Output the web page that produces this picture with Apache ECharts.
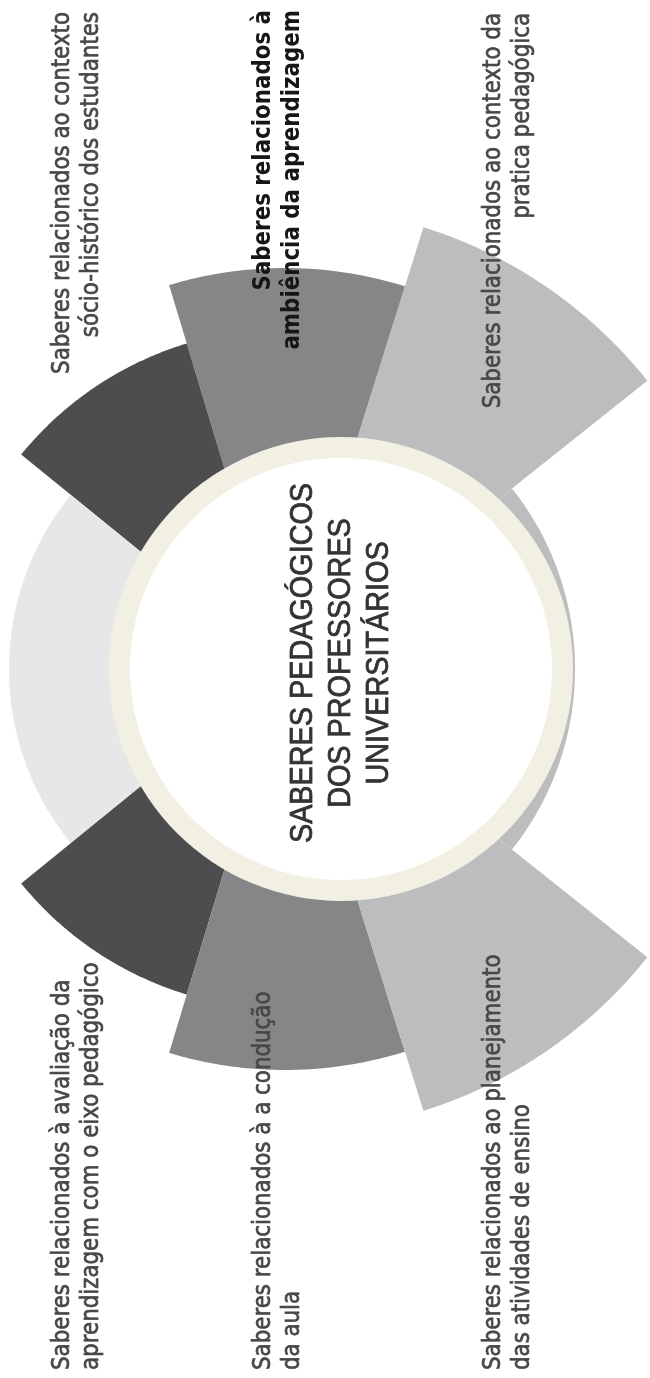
<!DOCTYPE html>
<html>
<head>
<meta charset="utf-8">
<script src="https://cdn.jsdelivr.net/npm/echarts@6/dist/echarts.min.js"></script>
<style>
  html, body { margin: 0; padding: 0; background: #fff; }
  #chart { width: 650px; height: 1378px; }
</style>
</head>
<body>
<div id="chart"></div>
<script>
// Saberes pedagógicos: 8 setores em volta do círculo central
// ângulos em graus, anti-horário a partir da direita
const sectorNames = [
  'direita', 'contexto da prática', 'ambiência', 'sócio-histórico',
  'esquerda', 'avaliação', 'condução', 'planejamento'
];
const sectorStart = [-38.5, 38.5, 72.6, 106.8, 140.9, 219.1, 253.2, 287.4];
const sectorEnd = [38.5, 72.6, 106.8, 140.9, 219.1, 253.2, 287.4, 321.5];
const sectorRadius = [290, 463, 401, 340, 276, 340, 401, 463];

const topLabels = [
  ['Saberes relacionados ao contexto', 'sócio-histórico dos estudantes'],
  ['Saberes relacionados à', 'ambiência da aprendizagem'],
  ['Saberes relacionados ao contexto da', 'pratica pedagógica']
];
const bottomLabels = [
  ['Saberes relacionados à avaliação da', 'aprendizagem com o eixo pedagógico'],
  ['Saberes relacionados à a condução', 'da aula'],
  ['Saberes relacionados ao planejamento', 'das atividades de ensino']
];
const centerTitle = ['SABERES PEDAGÓGICOS', 'DOS PROFESSORES', 'UNIVERSITÁRIOS'];

// styles
const sectorColors = ['#bcbdbf', '#bcbdbf', '#858688', '#4d4d4f', '#e6e7e9', '#4d4d4f', '#858688', '#bcbdbf'];
const labelX = [48, 249, 479];
const topY = [12, 10, 13];
const bottomY = 1370;

const chart = echarts.init(document.getElementById('chart'));

const labelFont = '25px "DejaVu Sans"';
const labelGray = '#474749';
const graphics = [];
topLabels.forEach((lines, i) => {
  const strong = i === 1;
  graphics.push({
    type: 'text',
    x: labelX[i],
    y: topY[i],
    rotation: Math.PI / 2,
    scaleX: 0.855,
    z: 100,
    style: {
      text: lines.join('\n'),
      font: (strong ? 'bold ' : '') + labelFont,
      fill: strong ? '#161616' : labelGray,
      stroke: strong ? null : labelGray,
      lineWidth: strong ? 0 : 0.7,
      textAlign: 'right',
      textVerticalAlign: 'top',
      lineHeight: 29
    }
  });
});
bottomLabels.forEach((lines, i) => {
  graphics.push({
    type: 'text',
    x: labelX[i],
    y: bottomY,
    rotation: Math.PI / 2,
    scaleX: 0.855,
    z: 100,
    style: {
      text: lines.join('\n'),
      font: labelFont,
      fill: labelGray,
      stroke: labelGray,
      lineWidth: 0.7,
      textAlign: 'left',
      textVerticalAlign: 'top',
      lineHeight: 29
    }
  });
});
graphics.push({
  type: 'text',
  x: 341,
  y: 663,
  rotation: Math.PI / 2,
  scaleX: 0.9,
  z: 100,
  style: {
    text: centerTitle.join('\n'),
    font: '32px "Liberation Sans"',
    fill: '#333335',
    stroke: '#333335',
    lineWidth: 0.8,
    textAlign: 'center',
    textVerticalAlign: 'middle',
    lineHeight: 38
  }
});

const option = {
  animation: false,
  polar: { center: [285, 669], radius: 463 },
  radiusAxis: { min: 0, max: 463, show: false },
  angleAxis: { type: 'value', min: 0, max: 360, startAngle: 0, clockwise: false, show: false },
  graphic: graphics,
  series: [
    {
      type: 'custom',
      coordinateSystem: 'polar',
      silent: true,
      data: sectorRadius.map((r, i) => ({ name: sectorNames[i], value: [r, sectorStart[i], sectorEnd[i]] })),
      renderItem: (params, api) => {
        const r = api.value(0);
        const a0 = api.value(1);
        const a1 = api.value(2);
        const pts = [api.coord([0, a0])];
        const steps = Math.ceil(Math.abs(a1 - a0) * 2);
        for (let k = 0; k <= steps; k++) {
          pts.push(api.coord([r, a0 + (a1 - a0) * k / steps]));
        }
        return {
          type: 'polygon',
          shape: { points: pts },
          style: { fill: sectorColors[params.dataIndex] }
        };
      }
    },
    {
      // anel bege
      type: 'pie',
      center: [341, 669],
      radius: [210, 232],
      silent: true,
      z: 3,
      label: { show: false },
      labelLine: { show: false },
      data: [{ value: 1, itemStyle: { color: '#f2f0e3' } }]
    },
    {
      type: 'pie',
      center: [341, 669],
      radius: [0, 211],
      silent: true,
      z: 3,
      label: { show: false },
      labelLine: { show: false },
      data: [{ value: 1, itemStyle: { color: '#ffffff' } }]
    }
  ]
};

chart.setOption(option);
</script>
</body>
</html>
